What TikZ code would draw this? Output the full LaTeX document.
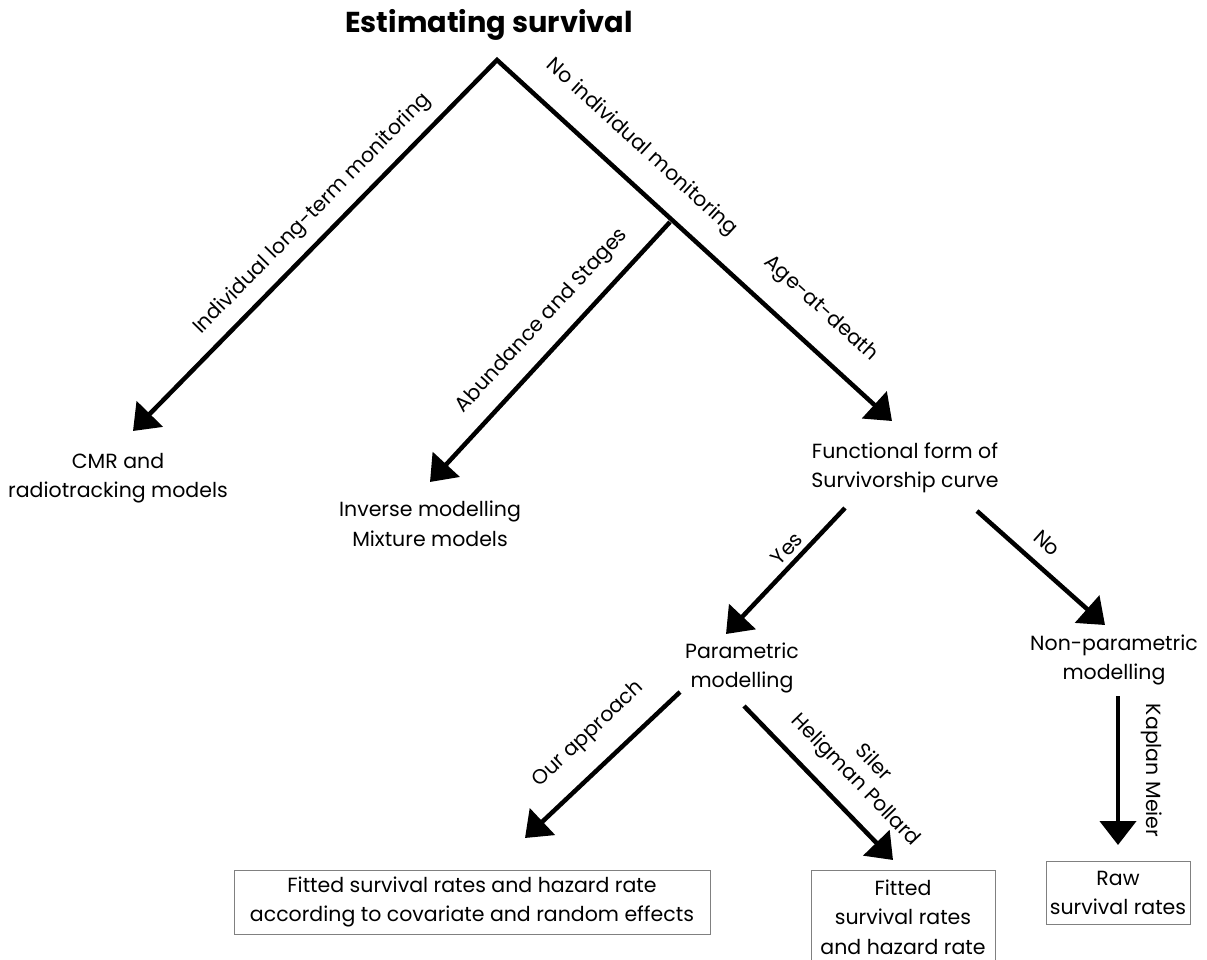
\documentclass[tikz,border=0pt]{standalone}
\usepackage{fontspec}
\setmainfont{Poppins}
\usetikzlibrary{arrows.meta}

\tikzset{
  arr/.style={line width=4.5pt, -{Triangle[length=24pt,width=36pt]}},
  lbl/.style={sloped, above, inner sep=3pt, font=\fontsize{20.5}{25}\selectfont},
  txt/.style={align=center, font=\fontsize{20.5}{29.5}\selectfont},
  outbox/.style={txt, draw=gray, line width=0.8pt, inner sep=0pt}
}

\begin{document}
\begin{tikzpicture}[x=1pt,y=-1pt]
\useasboundingbox (0,0) rectangle (1207,960);

% title and the end points of the tree
\node[font=\fontsize{28.8}{34}\selectfont\bfseries] (title) at (489,25) {Estimating survival};
\coordinate (apex) at (497,60);
\coordinate (branch) at (670,222);
\coordinate (cmrtip) at (133,431);
\coordinate (invtip) at (430,482);
\coordinate (agetip) at (892,421);

% results
\node[txt] (cmr) at (118,478) {CMR and\\radiotracking models};
\node[txt] (inverse) at (430,524) {Inverse modelling\\Mixture models};
\node[txt] (functional) at (905,468) {Functional form of\\Survivorship curve};
\node[txt] (parametric) at (742,668) {Parametric\\modelling};
\node[txt] (nonpar) at (1114,660) {Non-parametric\\modelling};
\node[outbox, minimum width=476pt, minimum height=64pt] (ourbox) at (472,902)
  {Fitted survival rates and hazard rate\\according to covariate and random effects};
\node[outbox, minimum width=184pt, minimum height=94pt] (silerbox) at (903,917)
  {Fitted\\survival rates\\and hazard rate};
\node[outbox, minimum width=144pt, minimum height=63pt] (rawbox) at (1118,893)
  {Raw\\survival rates};

% lower arrows
\coordinate (yesstart) at (845,508);
\coordinate (yestip) at (726,634);
\coordinate (nostart) at (977,511);
\coordinate (notip) at (1105,625);
\coordinate (ourstart) at (680,692);
\coordinate (ourtip) at (525,838);
\coordinate (silerstart) at (744,706);
\coordinate (silertip) at (893,860);
\coordinate (kmstart) at (1118,696);
\coordinate (kmtip) at (1118,845);

% the two top branches
\draw[line width=4.5pt, line join=miter, {Triangle[length=24pt,width=36pt]}-{Triangle[length=24pt,width=36pt]}]
  (cmrtip) -- node[lbl, pos=0.54, yshift=8pt] {Individual long-term monitoring}
  (apex) -- node[lbl, pos=0.31, yshift=17pt] {No individual monitoring}
  node[lbl, pos=0.76, yshift=19pt] {Age-at-death} (agetip);
\draw[arr] (branch) -- node[lbl, pos=0.45, yshift=11pt] {Abundance and Stages} (invtip);

\draw[arr] (yesstart) -- node[lbl, pos=0.4, yshift=2pt] {Yes} (yestip);
\draw[arr] (nostart) -- node[lbl, pos=0.43, yshift=10pt] {No} (notip);
\draw[arr] (ourstart) -- node[lbl, pos=0.45, yshift=16pt] {Our approach} (ourtip);
\draw[arr] (silerstart) -- node[lbl, pos=0.61, yshift=12pt, align=center] {Siler\\Heligman Pollard} (silertip);
\draw[arr] (kmstart) -- node[lbl, pos=0.5, yshift=18pt] {Kaplan Meier} (kmtip);
\end{tikzpicture}
\end{document}
